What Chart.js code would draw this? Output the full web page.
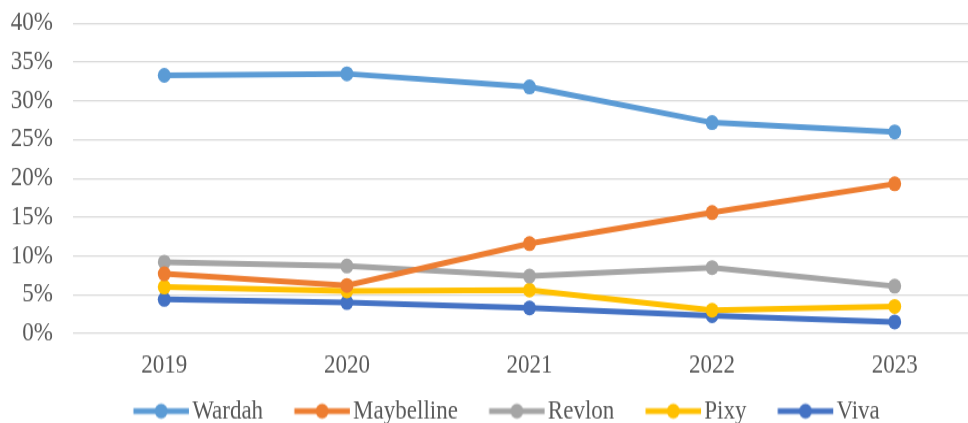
<!DOCTYPE html>
<html>
<head>
<meta charset="utf-8">
<script src="https://cdn.jsdelivr.net/npm/chart.js@4"></script>
<style>
  html, body { margin: 0; padding: 0; background: #fff; overflow: hidden; }
  #wrap { width: 968px; height: 423px; overflow: hidden; }
  /* the reference is a slightly tall-stretched Excel chart, so stretch the canvas the same way */
  #box { width: 996px; height: 379px; transform: scaleY(1.15); transform-origin: 0 0; }
</style>
</head>
<body>
<div id="wrap"><div id="box"><canvas id="brandChart"></canvas></div></div>
<script>
// market share per brand (percent)
const years = ["2019", "2020", "2021", "2022", "2023"];
const wardah = [33.3, 33.5, 31.8, 27.2, 26.0];
const maybelline = [7.7, 6.2, 11.6, 15.6, 19.3];
const revlon = [9.2, 8.7, 7.4, 8.5, 6.1];
const pixy = [6.0, 5.5, 5.6, 3.0, 3.5];
const viva = [4.4, 4.0, 3.3, 2.3, 1.5];
const yTicks = [0, 5, 10, 15, 20, 25, 30, 35, 40];

const serif = "'Liberation Serif', 'Times New Roman', serif";
const textColor = "#595959";
const fontSize = 23;
// legend: small vertical padding, so the gap between items is made up inside the icon box
const legendPad = 14;
const iconLead = 17.5;
const iconBox = 47 + iconLead;

// legend icon: thick line with a dot, running from the item start up to the text
function legendIcon(color) {
  const c = document.createElement("canvas");
  c.width = Math.round(iconBox + 18);
  c.height = 16;
  const g = c.getContext("2d");
  const x0 = 9 + iconLead;
  g.strokeStyle = color;
  g.lineWidth = 5;
  g.beginPath();
  g.moveTo(x0, 8);
  g.lineTo(c.width - 1, 8);
  g.stroke();
  g.fillStyle = color;
  g.beginPath();
  g.arc((x0 + c.width - 1) / 2, 8, 6.5, 0, Math.PI * 2);
  g.fill();
  return c;
}

function series(label, data, color) {
  return {
    label,
    data,
    borderColor: color,
    backgroundColor: color,
    borderWidth: 5,
    pointRadius: 6.5,
    pointHoverRadius: 6.5,
    pointBackgroundColor: color,
    pointBorderWidth: 0,
    tension: 0,
    legendIcon: legendIcon(color),
  };
}

const ctx = document.getElementById("brandChart");
new Chart(ctx, {
  type: "line",
  data: {
    labels: years,
    datasets: [
      series("Wardah", wardah, "#5B9BD5"),
      series("Maybelline", maybelline, "#ED7D31"),
      series("Revlon", revlon, "#A5A5A5"),
      series("Pixy", pixy, "#FFC000"),
      series("Viva", viva, "#4472C4"),
    ],
  },
  options: {
    responsive: true,
    maintainAspectRatio: false,
    animation: false,
    layout: { padding: { top: 20.3, right: 0, bottom: 0, left: 0 } },
    plugins: {
      tooltip: { enabled: false },
      legend: {
        position: "bottom",
        labels: {
          usePointStyle: true,
          pointStyleWidth: iconBox,
          padding: legendPad,
          color: textColor,
          font: { family: serif, size: fontSize },
          generateLabels(chart) {
            return chart.data.datasets.map((ds, i) => ({
              text: ds.label,
              pointStyle: ds.legendIcon,
              fontColor: textColor,
              strokeStyle: ds.borderColor,
              fillStyle: ds.borderColor,
              lineWidth: 0,
              hidden: false,
              datasetIndex: i,
            }));
          },
        },
      },
    },
    scales: {
      x: {
        offset: true,
        afterFit: (scale) => { scale.height = 42; scale.paddingRight = 10; },
        grid: { display: false, drawTicks: false },
        border: { display: false },
        ticks: { color: textColor, font: { family: serif, size: fontSize }, padding: 14 },
      },
      y: {
        min: 0,
        max: 40,
        afterBuildTicks: (scale) => { scale.ticks = yTicks.map(v => ({ value: v })); },
        afterFit: (scale) => { scale.width = 73; },
        grid: { color: "#D9D9D9", lineWidth: 1.2, tickLength: 20, tickColor: "rgba(0,0,0,0)" },
        border: { display: false },
        ticks: {
          color: textColor,
          padding: 0,
          font: { family: serif, size: fontSize },
          callback: (v) => v + "%",
        },
      },
    },
  },
});
</script>
</body>
</html>
